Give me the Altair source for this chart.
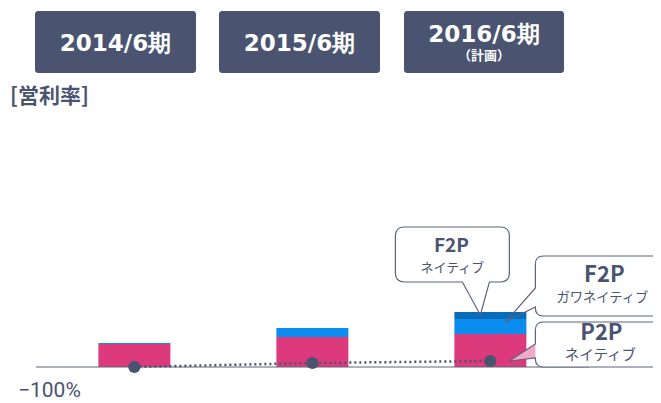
import altair as alt
import pandas as pd

# ---- data ----
years = [2014, 2015, 2016]
year_labels = ["2014/6期", "2015/6期", "2016/6期"]
year_sub = ["", "", "（計画）"]
series = ["P2P ネイティブ", "F2P ガワネイティブ", "F2P ネイティブ"]
p2p_native = [23, 30, 33]
f2p_gawa = [1, 9, 15]
f2p_native = [0, 0, 7]
op_margin = [0, 4, 6]
axis_label = "−100%"
y_title = "[営利率]"

# ---- styles / layout ----
NAVY = "#4A5470"
COLORS = ["#DC3A7D", "#0B8DF0", "#0A6BB8"]
W, H = 645, 395
XDOM = [2013.318, 2016.8855]
YDOM = [-36, 359]
FONT_JP = "Noto Sans CJK JP"

xs = alt.Scale(domain=XDOM, nice=False, zero=False)
ys = alt.Scale(domain=YDOM, nice=False, zero=False)

rows = []
for i, yr in enumerate(years):
    for k, (s, vals) in enumerate(zip(series, [p2p_native, f2p_gawa, f2p_native])):
        rows.append({"year": yr, "series": s, "value": vals[i], "order": k})
bars_df = pd.DataFrame(rows)
dots_df = pd.DataFrame({"year": years, "margin": op_margin})

bars = alt.Chart(bars_df).mark_bar(width=72).encode(
    x=alt.X("year:Q", scale=xs, axis=None),
    y=alt.Y("sum(value):Q", scale=ys, axis=None, stack="zero"),
    color=alt.Color("series:N", scale=alt.Scale(domain=series, range=COLORS), legend=None),
    order=alt.Order("order:Q"),
)

baseline = alt.Chart(pd.DataFrame({"v": [0]})).mark_rule(color="#5A6478", strokeWidth=1).encode(
    x=alt.value(28), x2=alt.value(581), y=alt.Y("v:Q", scale=ys, axis=None)
)

dline = alt.Chart(dots_df).mark_line(color=NAVY, strokeDash=[2, 3], strokeWidth=2.5).encode(
    x=alt.X("year:Q", scale=xs, axis=None), y=alt.Y("margin:Q", scale=ys, axis=None)
)
dots = alt.Chart(dots_df).mark_circle(color=NAVY, size=150, opacity=1).encode(
    x=alt.X("year:Q", scale=xs, axis=None), y=alt.Y("margin:Q", scale=ys, axis=None)
)

# header boxes (layout in pixels)
hdr = pd.DataFrame({
    "label": year_labels, "sub": year_sub,
    "x0": [27, 211, 396], "x1": [188, 372, 556],
    "tx": [107.5, 291.5, 476], "ty": [36, 36, 26.5], "sy": [48, 48, 48],
})
hrect = alt.Chart(hdr).mark_rect(color=NAVY, cornerRadius=3).encode(
    x=alt.X("x0:Q", scale=None), x2="x1:Q", y=alt.value(3), y2=alt.value(65)
)
htext = alt.Chart(hdr).mark_text(color="white", font="DejaVu Sans", fontWeight="bold", fontSize=23,
                                  baseline="middle", align="center").encode(
    x=alt.X("tx:Q", scale=None), y=alt.Y("ty:Q", scale=None), text="label:N"
)
hsub = alt.Chart(hdr).mark_text(color="white", font=FONT_JP, fontWeight="bold", fontSize=13,
                                 baseline="middle", align="center").encode(
    x=alt.X("tx:Q", scale=None), y=alt.Y("sy:Q", scale=None), text="sub:N"
)

ytitle = alt.Chart(pd.DataFrame({"t": [y_title]})).mark_text(
    color=NAVY, font=FONT_JP, fontWeight="bold", fontSize=21, align="left", baseline="middle"
).encode(x=alt.value(2), y=alt.value(88.5), text="t:N")

axlab = alt.Chart(pd.DataFrame({"t": [axis_label]})).mark_text(
    color=NAVY, font="Roboto", fontSize=21, align="left", baseline="alphabetic"
).encode(x=alt.value(10), y=alt.value(389), text="t:N")

# callouts anchored to stacked segment tops of 2016
top3 = p2p_native[2] + f2p_gawa[2] + f2p_native[2]
mid3 = p2p_native[2] + f2p_gawa[2]
callouts = [
    dict(y=top3,
         body="M -86 -85 H 10 Q 19 -85 19 -76 V -39 Q 19 -30 10 -30 H -86 Q -95 -30 -95 -39 V -76 Q -95 -85 -86 -85 Z",
         tail=None,
         outline="M -86 -85 H 10 Q 19 -85 19 -76 V -39 Q 19 -30 10 -30 H -1 L -10 3 L -28 -30 H -86 Q -95 -30 -95 -39 V -76 Q -95 -85 -86 -85 Z",
         t1=("F2P", -39, -66, 19), t2=("ネイティブ", -38, -44, 13)),
    dict(y=mid3,
         body="M 53 -63 H 230 V -3 H 53 Q 45 -3 45 -11 V -55 Q 45 -63 53 -63 Z",
         tail=None,
         outline="M 53 -63 H 230 V -3 H 53 Q 45 -3 45 -11 V -12 L 15 3 L 45 -31 V -55 Q 45 -63 53 -63 Z",
         t1=("F2P", 114, -44, 22), t2=("ガワネイティブ", 112, -21, 13.3)),
    dict(y=0,
         body="M 53 -45 H 230 V 0 H 53 Q 45 0 45 -8 V -37 Q 45 -45 53 -45 Z",
         tail="M 45 -9 L 19 -6 L 45 -23 Z",
         outline="M 53 -45 H 230 V 0 H 53 Q 45 0 45 -8 V -9 L 19 -6 L 45 -23 V -37 Q 45 -45 53 -45 Z",
         t1=("P2P", 111, -34, 22), t2=("ネイティブ", 110, -11, 14.5)),
]

call_layers = []
for c in callouts:
    d = pd.DataFrame({"year": [years[2]], "v": [c["y"]]})
    enc = dict(x=alt.X("year:Q", scale=xs, axis=None), y=alt.Y("v:Q", scale=ys, axis=None))
    call_layers.append(alt.Chart(d).mark_point(shape=c["body"], size=4, filled=True, color="white",
                                               opacity=1, strokeWidth=0).encode(**enc))
    if c["tail"]:
        call_layers.append(alt.Chart(d).mark_point(shape=c["tail"], size=4, filled=True, color="#F3A8C7",
                                                   opacity=1, strokeWidth=0).encode(**enc))
    call_layers.append(alt.Chart(d).mark_point(shape=c["outline"], size=4, filled=False, color="#5B6480",
                                               opacity=1, strokeWidth=1.2).encode(**enc))
    for (txt, dx, dy, fs), bold in [(c["t1"], True), (c["t2"], False)]:
        call_layers.append(alt.Chart(pd.DataFrame({"year": [years[2]], "v": [c["y"]], "t": [txt]})).mark_text(
            color=NAVY, font=FONT_JP, fontSize=fs, fontWeight="bold" if bold else "normal",
            dx=dx, dy=dy, align="center", baseline="middle"
        ).encode(text="t:N", **enc))

chart = alt.layer(
    hrect, htext, hsub, ytitle, bars, baseline, dline, dots, *call_layers, axlab
).properties(width=W, height=H, autosize=alt.AutoSizeParams(type="none"), padding=0
).configure_view(stroke=None)

chart.save("out.html", embed_options={"renderer": "svg", "actions": False})
